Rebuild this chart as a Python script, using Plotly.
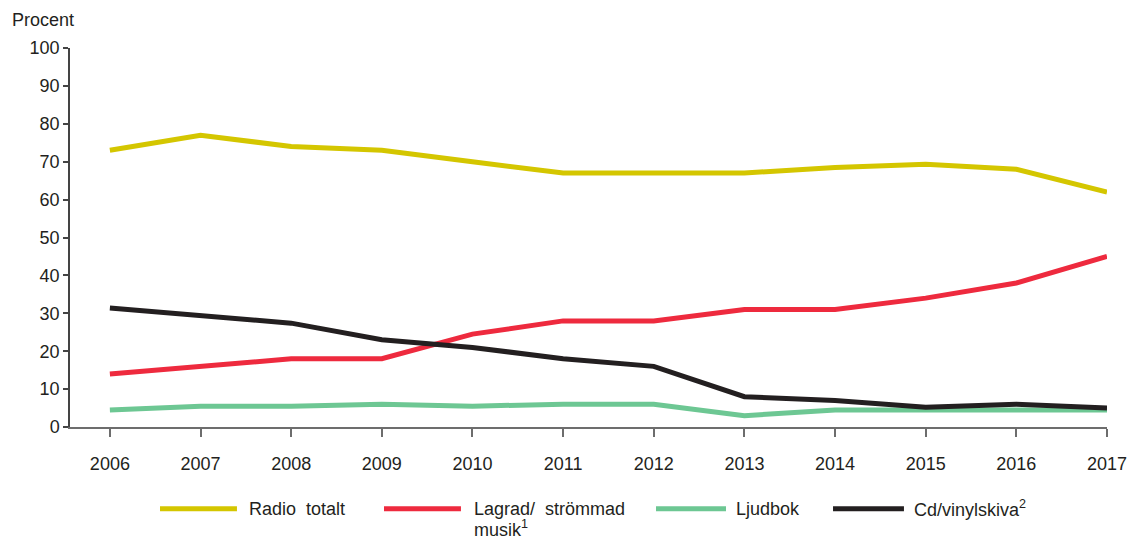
import plotly.graph_objects as go

years = [2006, 2007, 2008, 2009, 2010, 2011, 2012, 2013, 2014, 2015, 2016, 2017]
radio = [73, 77, 74, 73, 70, 67, 67, 67, 68.5, 69.3, 68, 62]
lagrad = [14, 16, 18, 18, 24.5, 28, 28, 31, 31, 34, 38, 45]
ljudbok = [4.5, 5.5, 5.5, 6, 5.5, 6, 6, 3, 4.5, 4.5, 4.5, 4.5]
cd = [31.4, 29.3, 27.4, 23, 21, 18, 16, 8, 7, 5.2, 6, 5]

series_names = ["Radio totalt", "Lagrad/ strömmad musik¹", "Ljudbok", "Cd/vinylskiva²"]
colors = ["#D4C600", "#EE2A3E", "#6DC793", "#231F20"]
values = [radio, lagrad, ljudbok, cd]
y_ticks = list(range(0, 101, 10))

FONT = "Liberation Sans, Arial, Helvetica, sans-serif"
TXT = "#231F20"
FS = 18

fig = go.Figure()
for name, col, vals in zip(series_names, colors, values):
    fig.add_trace(go.Scatter(x=years, y=vals, mode="lines", name=name,
                             line=dict(color=col, width=5), showlegend=False))

fig.update_layout(
    width=1131, height=537,
    margin=dict(l=70, r=24, t=48, b=110, autoexpand=False),
    paper_bgcolor="white", plot_bgcolor="white",
    font=dict(family=FONT, size=FS, color=TXT),
    xaxis=dict(range=[2005.56, 2017], tickvals=years, ticktext=[str(y) for y in years],
               showgrid=False, zeroline=False, showline=True, linecolor="#6d6d6d", linewidth=1.5,
               ticks="outside", ticklen=8, tickcolor="#6d6d6d", tickwidth=1.5,
               ticklabelstandoff=12, automargin=False,
               tickfont=dict(size=FS, color=TXT)),
    yaxis=dict(range=[0, 100], tickvals=y_ticks, showgrid=False, zeroline=False,
               showline=True, linecolor="#444444", linewidth=1.5,
               ticks="outside", ticklen=5, tickcolor="#444444", tickwidth=1.5,
               automargin=False,
               tickfont=dict(size=FS, color=TXT)),
)

fig.add_annotation(text="Procent", xref="paper", yref="paper", x=-0.058, y=1.074,
                   xanchor="left", yanchor="middle", showarrow=False,
                   font=dict(size=FS, color=TXT))

# manual legend
leg_y = -0.216
leg = [
    (0.0868, 0.161, 0.1707, ["Radio&nbsp;&nbsp;totalt"]),
    (0.3028, 0.377, 0.3877, ["Lagrad/&nbsp;&nbsp;strömmad", "musik<sup>1</sup>"]),
    (0.5651, 0.6326, 0.6403, ["Ljudbok"]),
    (0.7358, 0.8042, 0.812, ["Cd/vinylskiva<sup>2</sup>"]),
]
for (x0, x1, xt, lines), col in zip(leg, colors):
    fig.add_shape(type="line", xref="paper", yref="paper", x0=x0, x1=x1, y0=leg_y, y1=leg_y,
                  line=dict(color=col, width=5))
    for i, t in enumerate(lines):
        fig.add_annotation(text=t, xref="paper", yref="paper", x=xt, y=leg_y - i * 0.052,
                           xanchor="left", yanchor="middle", showarrow=False,
                           font=dict(size=FS, color=TXT))

fig.write_html("out.html", config={"displayModeBar": False},
               post_script="document.body.style.margin='0';")
